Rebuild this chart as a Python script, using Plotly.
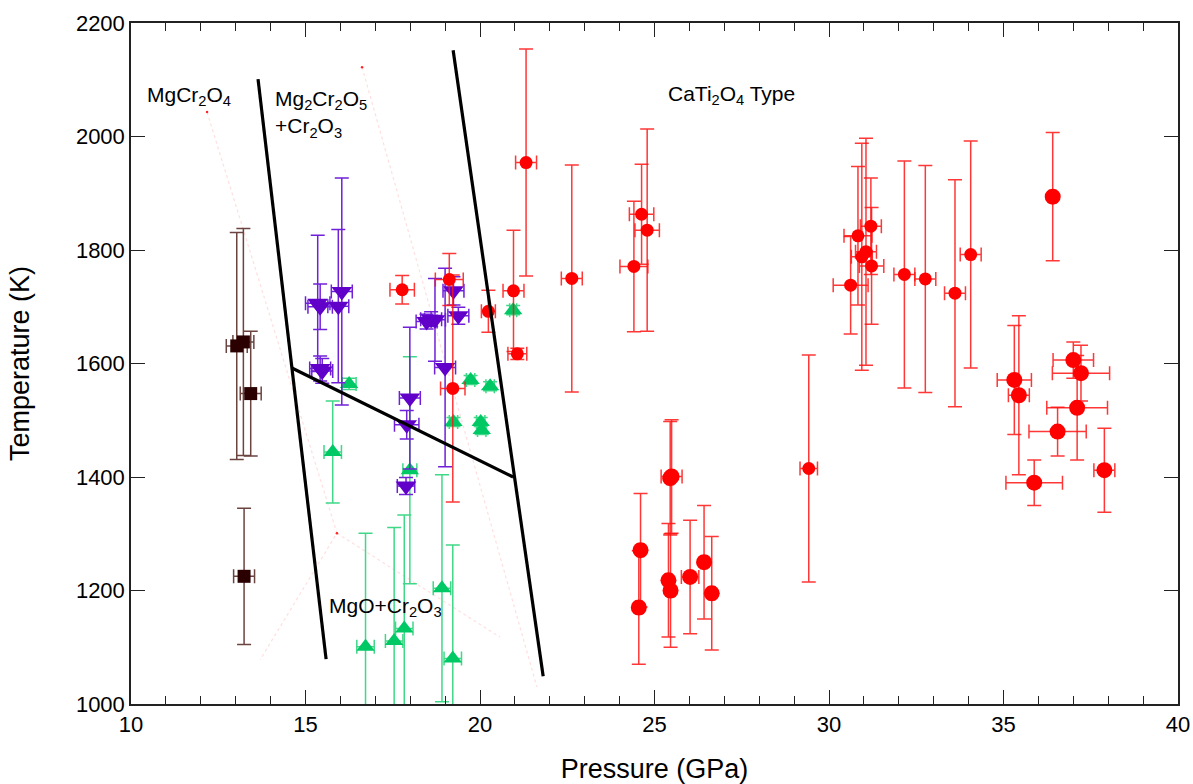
import plotly.graph_objects as go

# ---------------- data ----------------
# MgCr2O4 (squares)
sq_p = [13.03, 13.22, 13.43, 13.24]
sq_t = [1631, 1638, 1547, 1225]
sq_dp = [0.3, 0.3, 0.3, 0.3]
sq_dt = [200, 200, 110, 120]

# Mg2Cr2O5 + Cr2O3 (triangle down)
pu_p = [15.35, 15.42, 15.94, 16.04, 15.42, 15.48, 17.99, 17.90, 17.88, 18.47, 18.60, 18.71, 19.00, 19.24, 19.38]
pu_t = [1706, 1700, 1701, 1727, 1591, 1587, 1539, 1492, 1384, 1674, 1678, 1677, 1593, 1728, 1684]
pu_dp = [0.35, 0.35, 0.3, 0.3, 0.3, 0.3, 0.3, 0.35, 0.25, 0.3, 0.3, 0.3, 0.3, 0.3, 0.3]
pu_dt = [120, 40, 135, 200, 22, 22, 125, 25, 15, 13, 13, 73, 175, 25, 15]

# MgO + Cr2O3 (triangle up)
gr_p = [16.25, 15.78, 19.73, 20.29, 20.95, 19.24, 20.02, 20.05, 17.99, 16.72, 17.54, 17.83, 18.91, 19.22]
gr_t = [1564, 1444, 1571, 1560, 1694, 1497, 1497, 1483, 1412, 1101, 1111, 1133, 1204, 1080]
gr_dp = [0.2, 0.25, 0.12, 0.12, 0.1, 0.12, 0.12, 0.12, 0.2, 0.25, 0.25, 0.25, 0.25, 0.25]
gr_dt = [10, 90, 8, 8, 8, 8, 8, 8, 200, 200, 200, 200, 200, 200]

# CaTi2O4 type (circles, small)
rs_p = [17.77, 19.12, 19.22, 20.24, 20.96, 21.07, 21.32, 22.63, 24.41, 24.63, 24.79, 29.42,
        30.62, 30.83, 30.94, 31.06, 31.20, 31.22, 32.16, 32.76, 33.61, 34.06]
rs_t = [1730, 1748, 1556, 1692, 1728, 1617, 1954, 1750, 1771, 1863, 1835, 1415,
        1738, 1825, 1788, 1797, 1842, 1772, 1757, 1749, 1724, 1792]
rs_dp = [0.35, 0.4, 0.35, 0.2, 0.3, 0.27, 0.3, 0.3, 0.4, 0.35, 0.35, 0.25,
         0.5, 0.4, 0.3, 0.3, 0.3, 0.35, 0.3, 0.3, 0.3, 0.3]
rs_dt = [25, 46, 200, 37, 107, 10, 200, 200, 115, 88, 178, 200,
         86, 122, 200, 200, 85, 103, 200, 200, 200, 200]

# CaTi2O4 type (circles, large)
rl_p = [24.60, 24.55, 25.49, 25.45, 25.40, 25.46, 26.02, 26.42, 26.64,
        36.41, 35.31, 35.44, 37.00, 37.22, 37.11, 36.55, 35.88, 37.89]
rl_t = [1271, 1170, 1401, 1398, 1218, 1200, 1224, 1250, 1195,
        1894, 1571, 1544, 1606, 1583, 1522, 1480, 1390, 1412]
rl_dp = [0.1, 0.1, 0.3, 0.1, 0.1, 0.1, 0.25, 0.1, 0.1,
         0.1, 0.49, 0.3, 0.58, 0.82, 0.87, 0.82, 0.81, 0.3]
rl_dt = [100, 100, 100, 100, 100, 100, 100, 100, 100,
         113, 96, 140, 32, 49, 92, 43, 40, 74]

# phase boundaries (solid black)
b1_p = [13.64, 15.59]
b1_t = [2101, 1079]
b2_p = [19.23, 21.81]
b2_t = [2152, 1049]
b3_p = [14.61, 20.95]
b3_t = [1592, 1400]

# faint dotted guide lines
d1_p = [12.18, 15.90, 13.70]
d1_t = [2043, 1301, 1078]
d2_p = [15.90, 20.57]
d2_t = [1301, 1118]
d3_p = [16.62, 21.63]
d3_t = [2122, 1030]

FONT = "Liberation Sans, Arial, sans-serif"

fig = go.Figure()

# dotted guides
for px, ty in [(d1_p, d1_t), (d2_p, d2_t), (d3_p, d3_t)]:
    fig.add_trace(go.Scatter(x=px, y=ty, mode="lines",
                             line=dict(color="rgba(255,140,140,0.28)", width=1.2, dash="dot"),
                             hoverinfo="skip", showlegend=False))
    fig.add_trace(go.Scatter(x=px[:1], y=ty[:1], mode="markers",
                             marker=dict(size=2.5, color="rgba(255,0,0,0.85)"),
                             hoverinfo="skip", showlegend=False))

def add_series(px, ty, dp, dt, symbol, size, mcolor, ecolor, thick=1.5, cap=7):
    fig.add_trace(go.Scatter(
        x=px, y=ty, mode="markers",
        marker=dict(symbol=symbol, size=size, color=mcolor, line=dict(width=0)),
        error_x=dict(type="data", array=dp, visible=True, color=ecolor, thickness=thick, width=cap),
        error_y=dict(type="data", array=dt, visible=True, color=ecolor, thickness=thick, width=cap),
        showlegend=False))

add_series(sq_p, sq_t, sq_dp, sq_dt, "square", 13, "#2b0000", "#6b4440")
add_series(gr_p, gr_t, gr_dp, gr_dt, "triangle-up", 16, "#00c864", "#40d888")
add_series(pu_p, pu_t, pu_dp, pu_dt, "triangle-down", 18, "#6000c8", "#7020d8")
add_series(rl_p, rl_t, rl_dp, rl_dt, "circle", 16, "#ff0000", "rgba(255,20,20,0.85)")
add_series(rs_p, rs_t, rs_dp, rs_dt, "circle", 13, "#ff0000", "rgba(255,20,20,0.85)")

# phase boundaries
for px, ty in [(b1_p, b1_t), (b2_p, b2_t), (b3_p, b3_t)]:
    fig.add_trace(go.Scatter(x=px, y=ty, mode="lines",
                             line=dict(color="black", width=3.2),
                             hoverinfo="skip", showlegend=False))

labels = [
    (10.4, 2072, "MgCr<sub>2</sub>O<sub>4</sub>"),
    (14.07, 2040, "Mg<sub>2</sub>Cr<sub>2</sub>O<sub>5</sub><br>+Cr<sub>2</sub>O<sub>3</sub>"),
    (25.33, 2073, "CaTi<sub>2</sub>O<sub>4</sub> Type"),
    (15.62, 1171, "MgO+Cr<sub>2</sub>O<sub>3</sub>"),
]
for x, y, t in labels:
    fig.add_annotation(x=x, y=y, xref="x", yref="y", text=t, showarrow=False,
                       xanchor="left", yanchor="middle", align="left",
                       font=dict(family=FONT, size=21, color="black"))

axis_common = dict(showline=True, linecolor="#222", linewidth=1.5, mirror="ticks",
                   ticks="inside", ticklen=14, tickwidth=1.2, tickcolor="#222",
                   showgrid=False, zeroline=False, automargin=False,
                   tickfont=dict(family=FONT, size=22, color="black"))

fig.update_xaxes(range=[10, 40], dtick=5, tick0=10,
                 minor=dict(dtick=1, ticks="inside", ticklen=8, tickcolor="#222", tickwidth=1.2, showgrid=False),
                 title=dict(text="Pressure (GPa)", font=dict(family=FONT, size=27, color="black"), standoff=24),
                 **axis_common)
fig.update_yaxes(range=[1000, 2200], dtick=200, tick0=1000,
                 title=dict(text="Temperature (K)", font=dict(family=FONT, size=27, color="black"), standoff=38),
                 **axis_common)

fig.update_layout(width=1193, height=784, autosize=False,
                  margin=dict(l=131, r=15, t=23, b=80),
                  plot_bgcolor="white", paper_bgcolor="white",
                  showlegend=False)

fig.write_html("out.html")
